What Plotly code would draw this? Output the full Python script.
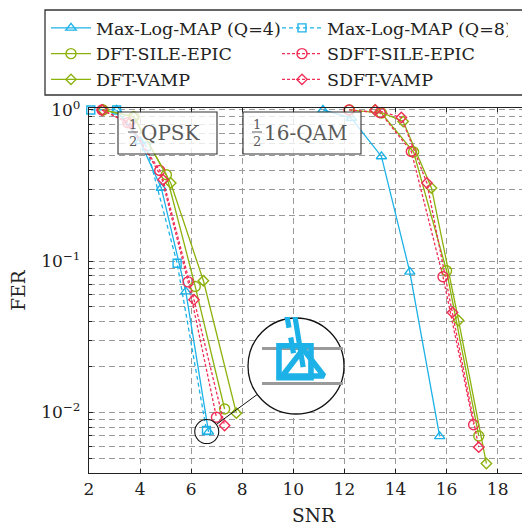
import math
import plotly.graph_objects as go

# ---------------- data ----------------
NAMES = ["Max-Log-MAP (Q=4)", "Max-Log-MAP (Q=8)", "DFT-SILE-EPIC",
         "SDFT-SILE-EPIC", "DFT-VAMP", "SDFT-VAMP"]

# QPSK curves
q4_qpsk_snr = [3.08, 4.0, 4.83, 5.79, 6.68]
q4_qpsk_fer = [1.0, 0.62, 0.305, 0.063, 7.45e-3]
q8_qpsk_snr = [2.07, 3.08, 4.25, 5.45, 6.60]
q8_qpsk_fer = [1.0, 1.0, 0.574, 0.097, 7.6e-3]
dsile_qpsk_snr = [2.55, 3.75, 5.03, 6.16, 7.31]
dsile_qpsk_fer = [1.0, 0.90, 0.373, 0.068, 0.01055]
dvamp_qpsk_snr = [2.55, 3.75, 5.20, 6.48, 7.77]
dvamp_qpsk_fer = [1.0, 0.90, 0.329, 0.0743, 9.9e-3]
ssile_qpsk_snr = [2.51, 3.52, 4.77, 5.88, 6.99]
ssile_qpsk_fer = [1.0, 0.823, 0.398, 0.073, 9.3e-3]
svamp_qpsk_snr = [2.51, 3.60, 4.90, 6.11, 7.31]
svamp_qpsk_fer = [1.0, 0.82, 0.346, 0.0557, 8.2e-3]

# 16-QAM curves
q4_qam_snr = [11.16, 12.27, 13.45, 14.56, 15.73]
q4_qam_fer = [1.0, 0.883, 0.493, 0.085, 6.95e-3]
dsile_qam_snr = [12.2, 13.45, 14.71, 16.0, 17.26]
dsile_qam_fer = [1.0, 0.954, 0.527, 0.0865, 7.0e-3]
dvamp_qam_snr = [13.2, 14.3, 15.41, 16.47, 17.56]
dvamp_qam_fer = [1.0, 0.839, 0.305, 0.0406, 4.6e-3]
ssile_qam_snr = [12.18, 13.4, 14.62, 15.86, 17.06]
ssile_qam_fer = [1.0, 0.96, 0.532, 0.079, 8.3e-3]
svamp_qam_snr = [13.21, 14.23, 15.23, 16.23, 17.26]
svamp_qam_fer = [1.0, 0.892, 0.329, 0.0459, 5.9e-3]

x_ticks = [2, 4, 6, 8, 10, 12, 14, 16, 18, 20]
y_ticks = [1, 0.1, 0.01]
y_ticktext = ["10<sup>0</sup>", "10<sup>\u22121</sup>", "10<sup>\u22122</sup>"]
y_minor = [m * 10.0 ** e for e in (-3, -2, -1) for m in range(2, 10)]

spy_snr, spy_fer = 6.61, 7.48e-3   # centre of the magnified spot

# ---------------- styles ----------------
CYAN = "#1cb2e8"
GREEN = "#8db20c"
RED = "#f02d55"
FONT = "DejaVu Serif"
INK = "#222"

OFF = 8                       # page body margin of the html page
W, H = 530, 525
L, T = 89 - OFF, 108 - OFF    # plot left / top (figure px)
BOT = 473 - OFF               # plot bottom (figure px)
B = H - BOT
PW, PH = W - L, BOT - T
XPX = 25.54                   # px per SNR unit
X0 = 2.0
X1 = X0 + PW / XPX
Y_TOP = 0.013
Y_BOT = -2.40
YPX = PH / (Y_TOP - Y_BOT)


def pxx(sx):
    """screen x -> paper x"""
    return (sx - OFF - L) / PW


def pxy(sy):
    """screen y -> paper y"""
    return (BOT - (sy - OFF)) / PH


def data_px(x, y):
    """data -> screen px"""
    return L + OFF + (x - X0) * XPX, T + OFF + (Y_TOP - math.log10(y)) * YPX


series = [
    (NAMES[0], CYAN, "solid", "triangle-up-open", 9,
     q4_qpsk_snr + [None] + q4_qam_snr, q4_qpsk_fer + [None] + q4_qam_fer),
    (NAMES[1], CYAN, "4px,3px", "square-open", 8,
     q8_qpsk_snr, q8_qpsk_fer),
    (NAMES[2], GREEN, "solid", "circle-open", 10,
     dsile_qpsk_snr + [None] + dsile_qam_snr, dsile_qpsk_fer + [None] + dsile_qam_fer),
    (NAMES[3], RED, "3px,2px", "circle-open", 10,
     ssile_qpsk_snr + [None] + ssile_qam_snr, ssile_qpsk_fer + [None] + ssile_qam_fer),
    (NAMES[4], GREEN, "solid", "diamond-open", 8,
     dvamp_qpsk_snr + [None] + dvamp_qam_snr, dvamp_qpsk_fer + [None] + dvamp_qam_fer),
    (NAMES[5], RED, "3px,2px", "diamond-open", 8,
     svamp_qpsk_snr + [None] + svamp_qam_snr, svamp_qpsk_fer + [None] + svamp_qam_fer),
]

fig = go.Figure()
for name, col, dash, sym, size, xs, ys in series:
    fig.add_trace(go.Scatter(
        x=xs, y=ys, name=name, mode="lines+markers", cliponaxis=False,
        line=dict(color=col, width=1.3, dash=dash),
        marker=dict(symbol=sym, size=size, color=col, line=dict(color=col, width=1.4)),
        xaxis="x", yaxis="y"))

# subplot that only holds the white magnifier disc
fig.add_trace(go.Scatter(x=[0.5], y=[0.5], mode="markers", marker=dict(opacity=0),
                         showlegend=False, hoverinfo="skip", xaxis="x2", yaxis="y2"))

# magnified inset (the two Max-Log-MAP curves, 4x)
MAG = 4.0
for name, col, dash, sym, size, xs, ys in series[:2]:
    d = "solid" if dash == "solid" else "16px,10px"
    fig.add_trace(go.Scatter(
        x=xs, y=ys, name=name, mode="lines+markers", showlegend=False,
        line=dict(color=col, width=1.3 * MAG, dash=d),
        marker=dict(symbol=sym, size=size * MAG, color=col,
                    line=dict(color=col, width=1.4 * MAG)),
        xaxis="x3", yaxis="y3", hoverinfo="skip"))

axis_font = dict(family=FONT, size=17, color=INK)
title_font = dict(family=FONT, size=18.5, color=INK)
grid = dict(showgrid=True, gridcolor="#9a9a9a", gridwidth=1, griddash="6px,4px")

# magnifier geometry (screen pixels)
BC_X, BC_Y, BC_R = 296, 366, 48
SC_X, SC_Y = data_px(spy_snr, spy_fer)
SC_R = BC_R / MAG
PAD = 3
c2x0, c2x1 = BC_X - BC_R - PAD, BC_X + BC_R + PAD
c2y0, c2y1 = BC_Y - BC_R - PAD, BC_Y + BC_R + PAD

# inset rectangle (screen px), centred on the spy point
IX0, IX1, IY0, IY1 = 262, 343, 317, 400
sxm = XPX * MAG
sym_ = YPX * MAG
ins_xr = [spy_snr - (BC_X - IX0) / sxm, spy_snr + (IX1 - BC_X) / sxm]
ly = math.log10(spy_fer)
ins_yr = [ly - (IY1 - BC_Y) / sym_, ly + (BC_Y - IY0) / sym_]

fig.update_layout(
    width=W, height=H,
    margin=dict(l=L, r=0, t=T, b=B, autoexpand=False),
    paper_bgcolor="white", plot_bgcolor="rgba(0,0,0,0)",
    font=dict(family=FONT, size=17, color=INK),
    showlegend=True,
    legend=dict(orientation="h", x=pxx(46), xanchor="left", y=pxy(10), yanchor="top",
                bgcolor="rgba(0,0,0,0)", borderwidth=0, itemwidth=40,
                entrywidth=176, entrywidthmode="pixels", tracegroupgap=0,
                font=dict(family=FONT, size=17.5, color=INK)),
    xaxis=dict(domain=[0, 1], range=[X0, X1], tickvals=x_ticks, ticks="inside", ticklen=4,
               tickcolor=INK, showline=True, linecolor=INK, linewidth=1.3, mirror="ticks",
               zeroline=False, tickfont=axis_font,
               title=dict(text="SNR", font=title_font, standoff=11),
               **grid),
    yaxis=dict(domain=[0, 1], type="log", range=[Y_BOT, Y_TOP], tickvals=y_ticks,
               ticktext=y_ticktext, ticks="inside", ticklen=4, tickcolor=INK,
               showline=True, linecolor=INK, linewidth=1.3, mirror="ticks", zeroline=False,
               tickfont=axis_font, ticklabelstandoff=4,
               minor=dict(tickvals=y_minor, ticks="inside", ticklen=3, tickcolor=INK,
                          showgrid=True, gridcolor="#9a9a9a", gridwidth=1, griddash="6px,4px"),
               title=dict(text="FER", font=title_font, standoff=15),
               **grid),
    xaxis2=dict(domain=[pxx(c2x0), pxx(c2x1)], range=[0, 1], visible=False, anchor="y2",
                fixedrange=True),
    yaxis2=dict(domain=[pxy(c2y1), pxy(c2y0)], range=[0, 1], visible=False, anchor="x2",
                fixedrange=True),
    xaxis3=dict(domain=[pxx(IX0), pxx(IX1)], range=ins_xr, visible=False, anchor="y3"),
    yaxis3=dict(domain=[pxy(IY1), pxy(IY0)], type="log", range=ins_yr, anchor="x3",
                tickvals=[7e-3, 8e-3, 9e-3], showticklabels=False, ticks="", showline=False,
                zeroline=False, showgrid=True, gridcolor="#9a9a9a", gridwidth=2.6),
)

shapes = []
# white magnifier disc (inside subplot x2y2: above the main curves, below the inset)
w2 = c2x1 - c2x0
h2 = c2y1 - c2y0
shapes.append(dict(type="circle", xref="x2", yref="y2", layer="below",
                   x0=PAD / w2, x1=1 - PAD / w2, y0=PAD / h2, y1=1 - PAD / h2,
                   fillcolor="white", line=dict(color="#111", width=1.3)))
# small spy circle
shapes.append(dict(type="circle", xref="paper", yref="paper", layer="above",
                   x0=pxx(SC_X - SC_R), x1=pxx(SC_X + SC_R),
                   y0=pxy(SC_Y + SC_R), y1=pxy(SC_Y - SC_R),
                   line=dict(color="#111", width=1.1)))
# connector
dx, dy = BC_X - SC_X, BC_Y - SC_Y
dd = math.hypot(dx, dy)
ux, uy = dx / dd, dy / dd
shapes.append(dict(type="line", xref="paper", yref="paper", layer="above",
                   x0=pxx(SC_X + SC_R * ux), y0=pxy(SC_Y + SC_R * uy),
                   x1=pxx(BC_X - BC_R * ux), y1=pxy(BC_Y - BC_R * uy),
                   line=dict(color="#111", width=1)))
# legend frame
shapes.append(dict(type="rect", xref="paper", yref="paper", layer="above",
                   x0=pxx(45), x1=pxx(570), y0=pxy(95), y1=pxy(10),
                   line=dict(color="#333", width=1.3), fillcolor="rgba(0,0,0,0)"))

annotations = []
GRAY = "#5a5a5a"


def label_box(x0, x1, frac_x, text, text_x):
    shapes.append(dict(type="rect", xref="paper", yref="paper", layer="above",
                       x0=pxx(x0), x1=pxx(x1), y0=pxy(154), y1=pxy(112),
                       fillcolor="rgba(255,255,255,0.78)", line=dict(color="#333", width=1.1)))
    shapes.append(dict(type="line", xref="paper", yref="paper", layer="above",
                       x0=pxx(frac_x - 5), x1=pxx(frac_x + 5), y0=pxy(132), y1=pxy(132),
                       line=dict(color=GRAY, width=1)))
    for t, yy in (("1", 124), ("2", 141)):
        annotations.append(dict(text=t, xref="paper", yref="paper", x=pxx(frac_x), y=pxy(yy),
                                showarrow=False, xanchor="center", yanchor="middle",
                                font=dict(family=FONT, size=13, color=GRAY)))
    annotations.append(dict(text=text, xref="paper", yref="paper", x=pxx(text_x), y=pxy(133),
                            showarrow=False, xanchor="left", yanchor="middle",
                            font=dict(family=FONT, size=20, color=GRAY)))


label_box(118, 217, 133, "QPSK", 139)
label_box(243, 361, 257, "16-QAM", 262)

fig.update_layout(shapes=shapes, annotations=annotations)
fig.write_html("out.html")
